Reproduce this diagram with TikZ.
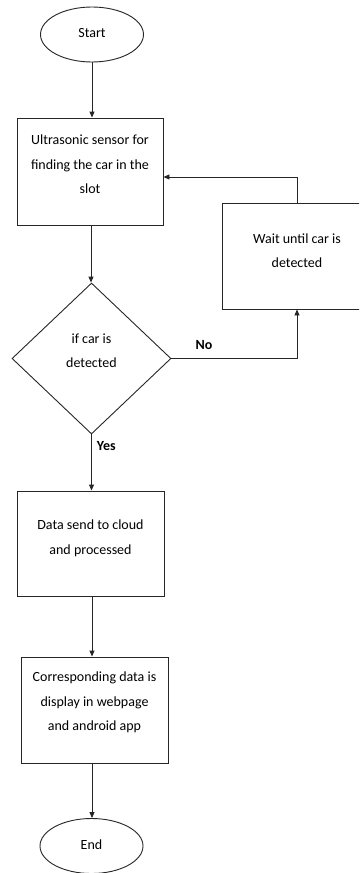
\documentclass[tikz,border=0pt]{standalone}
\usepackage{fontspec}
\setmainfont{Carlito}
\usetikzlibrary{shapes.geometric,arrows.meta,calc}
\begin{document}
\begin{tikzpicture}[x=1pt,y=-1pt,
  line/.style={draw=black!85,line width=0.9pt},
  arr/.style={line,-{Triangle[length=6pt,width=5pt]}},
  term/.style={line,ellipse,minimum width=103pt,minimum height=55pt,inner sep=0pt},
  boxnode/.style={line,rectangle,inner sep=0pt},
  decision/.style={line,diamond,minimum width=159pt,minimum height=151pt,inner sep=0pt,aspect=1.05},
  txt/.style={font=\fontsize{14}{24.5}\selectfont,align=center,inner sep=0pt,text=black},
  lbl/.style={font=\fontsize{14}{17}\selectfont\bfseries,inner sep=0pt,text=black}]
\clip (0,0) rectangle (359,873);
\fill[white] (0,0) rectangle (359,873);
% nodes
\node[term] (start) at (92,34.5) {};
\node[txt] (tstart) at (92,33) {Start};
\node[boxnode,minimum width=146pt,minimum height=107pt] (s1) at (90,171.5) {};
\node[txt] (ts1) at (90,164.5) {Ultrasonic sensor for\\finding the car in the\\slot};
\node[boxnode,minimum width=150pt,minimum height=106pt] (wait) at (297,256) {};
\node[txt] (twait) at (297,250.5) {Wait until car is\\detected};
\node[decision] (dia) at (91.5,358.5) {};
\node[txt] (tdia) at (91.5,350.5) {if car is\\detected};
\node[boxnode,minimum width=147pt,minimum height=105pt] (b2) at (90.5,543.5) {};
\node[txt] (tb2) at (90.5,538.5) {Data send to cloud\\and processed};
\node[boxnode,minimum width=147pt,minimum height=106pt] (b3) at (94.5,710) {};
\node[txt] (tb3) at (94.5,702.5) {Corresponding data is\\display in webpage\\and android app};
\node[term] (end) at (91.5,846) {};
\node[txt] (tend) at (91.5,845) {End};
% connectors
\draw[arr] (start.south) -- (start.south |- s1.north);
\draw[arr] ([xshift=1pt]s1.south) -- ([xshift=1pt]s1.south |- dia.north);
\draw[arr] (dia.south) -- (dia.south |- b2.north) node[lbl,pos=0.2,anchor=west,xshift=5pt] (yes) {Yes};
\draw[arr] ([xshift=1.5pt]b2.south) -- ([xshift=1.5pt]b2.south |- b3.north);
\draw[arr] ([xshift=-2.5pt]b3.south) -- ([xshift=-2.5pt]b3.south |- end.north);
\draw[arr] (dia.east) -| (wait.south) node[lbl,pos=0.13,above=8pt] (no) {No};
\draw[arr] (wait.north) |- ([yshift=-5.5pt]s1.east);
\end{tikzpicture}
\end{document}
